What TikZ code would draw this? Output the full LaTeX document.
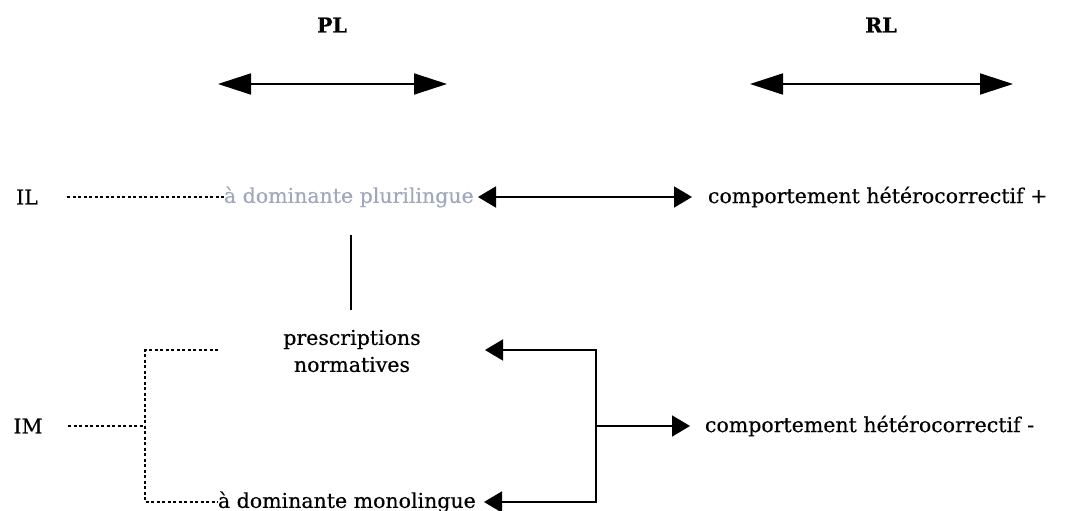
\documentclass[tikz,border=0pt]{standalone}
\usepackage{fontspec}
\setmainfont{DejaVu Serif}[FakeBold=0.4]
\usetikzlibrary{arrows.meta}
\definecolor{softblue}{RGB}{160,168,190}
\begin{document}
\begin{tikzpicture}[x=1pt,y=-1pt,
  every node/.style={inner sep=0pt,outer sep=0pt,font=\fontsize{20.5}{27}\selectfont},
  lbl/.style={anchor=center},
  head/.style={font=\fontsize{20.5}{27}\selectfont\bfseries},
  link/.style={line width=1.8pt},
  widearrow/.style={link,{Triangle[length=33pt,width=21pt]}-{Triangle[length=33pt,width=21pt]}},
  shortarrow/.style={link,{Triangle[length=18pt,width=21pt]}-{Triangle[length=18pt,width=21pt]}},
  dots/.style={line width=1.7pt,dash pattern=on 3pt off 2.5pt}]
\useasboundingbox (0,0) rectangle (1072,511);

% column headings with their double arrows
\node[head] (pl) at (332,25) {PL};
\node[head] (rl) at (881,25) {RL};
\coordinate (plL) at (218,84);
\coordinate (plR) at (447,84);
\coordinate (rlL) at (750,84);
\coordinate (rlR) at (1013,84);
\draw[widearrow] (plL) -- (plR);
\draw[widearrow] (rlL) -- (rlR);

% IL row
\node[lbl] (il) at (27,197) {IL};
\node[anchor=west,text=softblue] (plur) at (224,197) {à dominante plurilingue};
\node[anchor=west] (hplus) at (708,197) {comportement hétérocorrectif +};
\coordinate (ilEnd) at (67,197);
\draw[dots] (ilEnd) -- (plur.west);
\coordinate (pA) at (478,197);
\coordinate (pB) at (692,197);
\draw[shortarrow] (pA) -- (pB);

% link down to the prescriptions
\coordinate (vTop) at (351,235);
\coordinate (vBot) at (351,310);
\draw[link] (vTop) -- (vBot);

% IM group
\node[align=center] (presc) at (352,351) {prescriptions\\normatives};
\node[lbl] (im) at (28,426) {IM};
\node[anchor=west] (mono) at (218,502) {à dominante monolingue};
\node[anchor=west] (hminus) at (705,426) {comportement hétérocorrectif -};

\coordinate (imEnd) at (68,426);
\coordinate (brTop) at (145,350);
\coordinate (brMid) at (145,426);
\coordinate (brBot) at (145,502);
\coordinate (prescIn) at (218,350);
\draw[dots] (prescIn) -- (brTop) -- (brBot) -- (mono.west);
\draw[dots] (imEnd) -- (brMid);

% solid bracket feeding both norms and the negative behaviour
\coordinate (tipTop) at (485,350);
\coordinate (tipBot) at (484,502);
\coordinate (rTop) at (596,350);
\coordinate (rMid) at (596,426);
\coordinate (rBot) at (596,502);
\coordinate (tipMid) at (690,426);
\draw[link,{Triangle[length=18pt,width=21pt]}-{Triangle[length=18pt,width=21pt]}] (tipTop) -- (rTop) -- (rBot) -- (tipBot);
\draw[link,-{Triangle[length=18pt,width=21pt]}] (rMid) -- (tipMid);
\end{tikzpicture}
\end{document}
